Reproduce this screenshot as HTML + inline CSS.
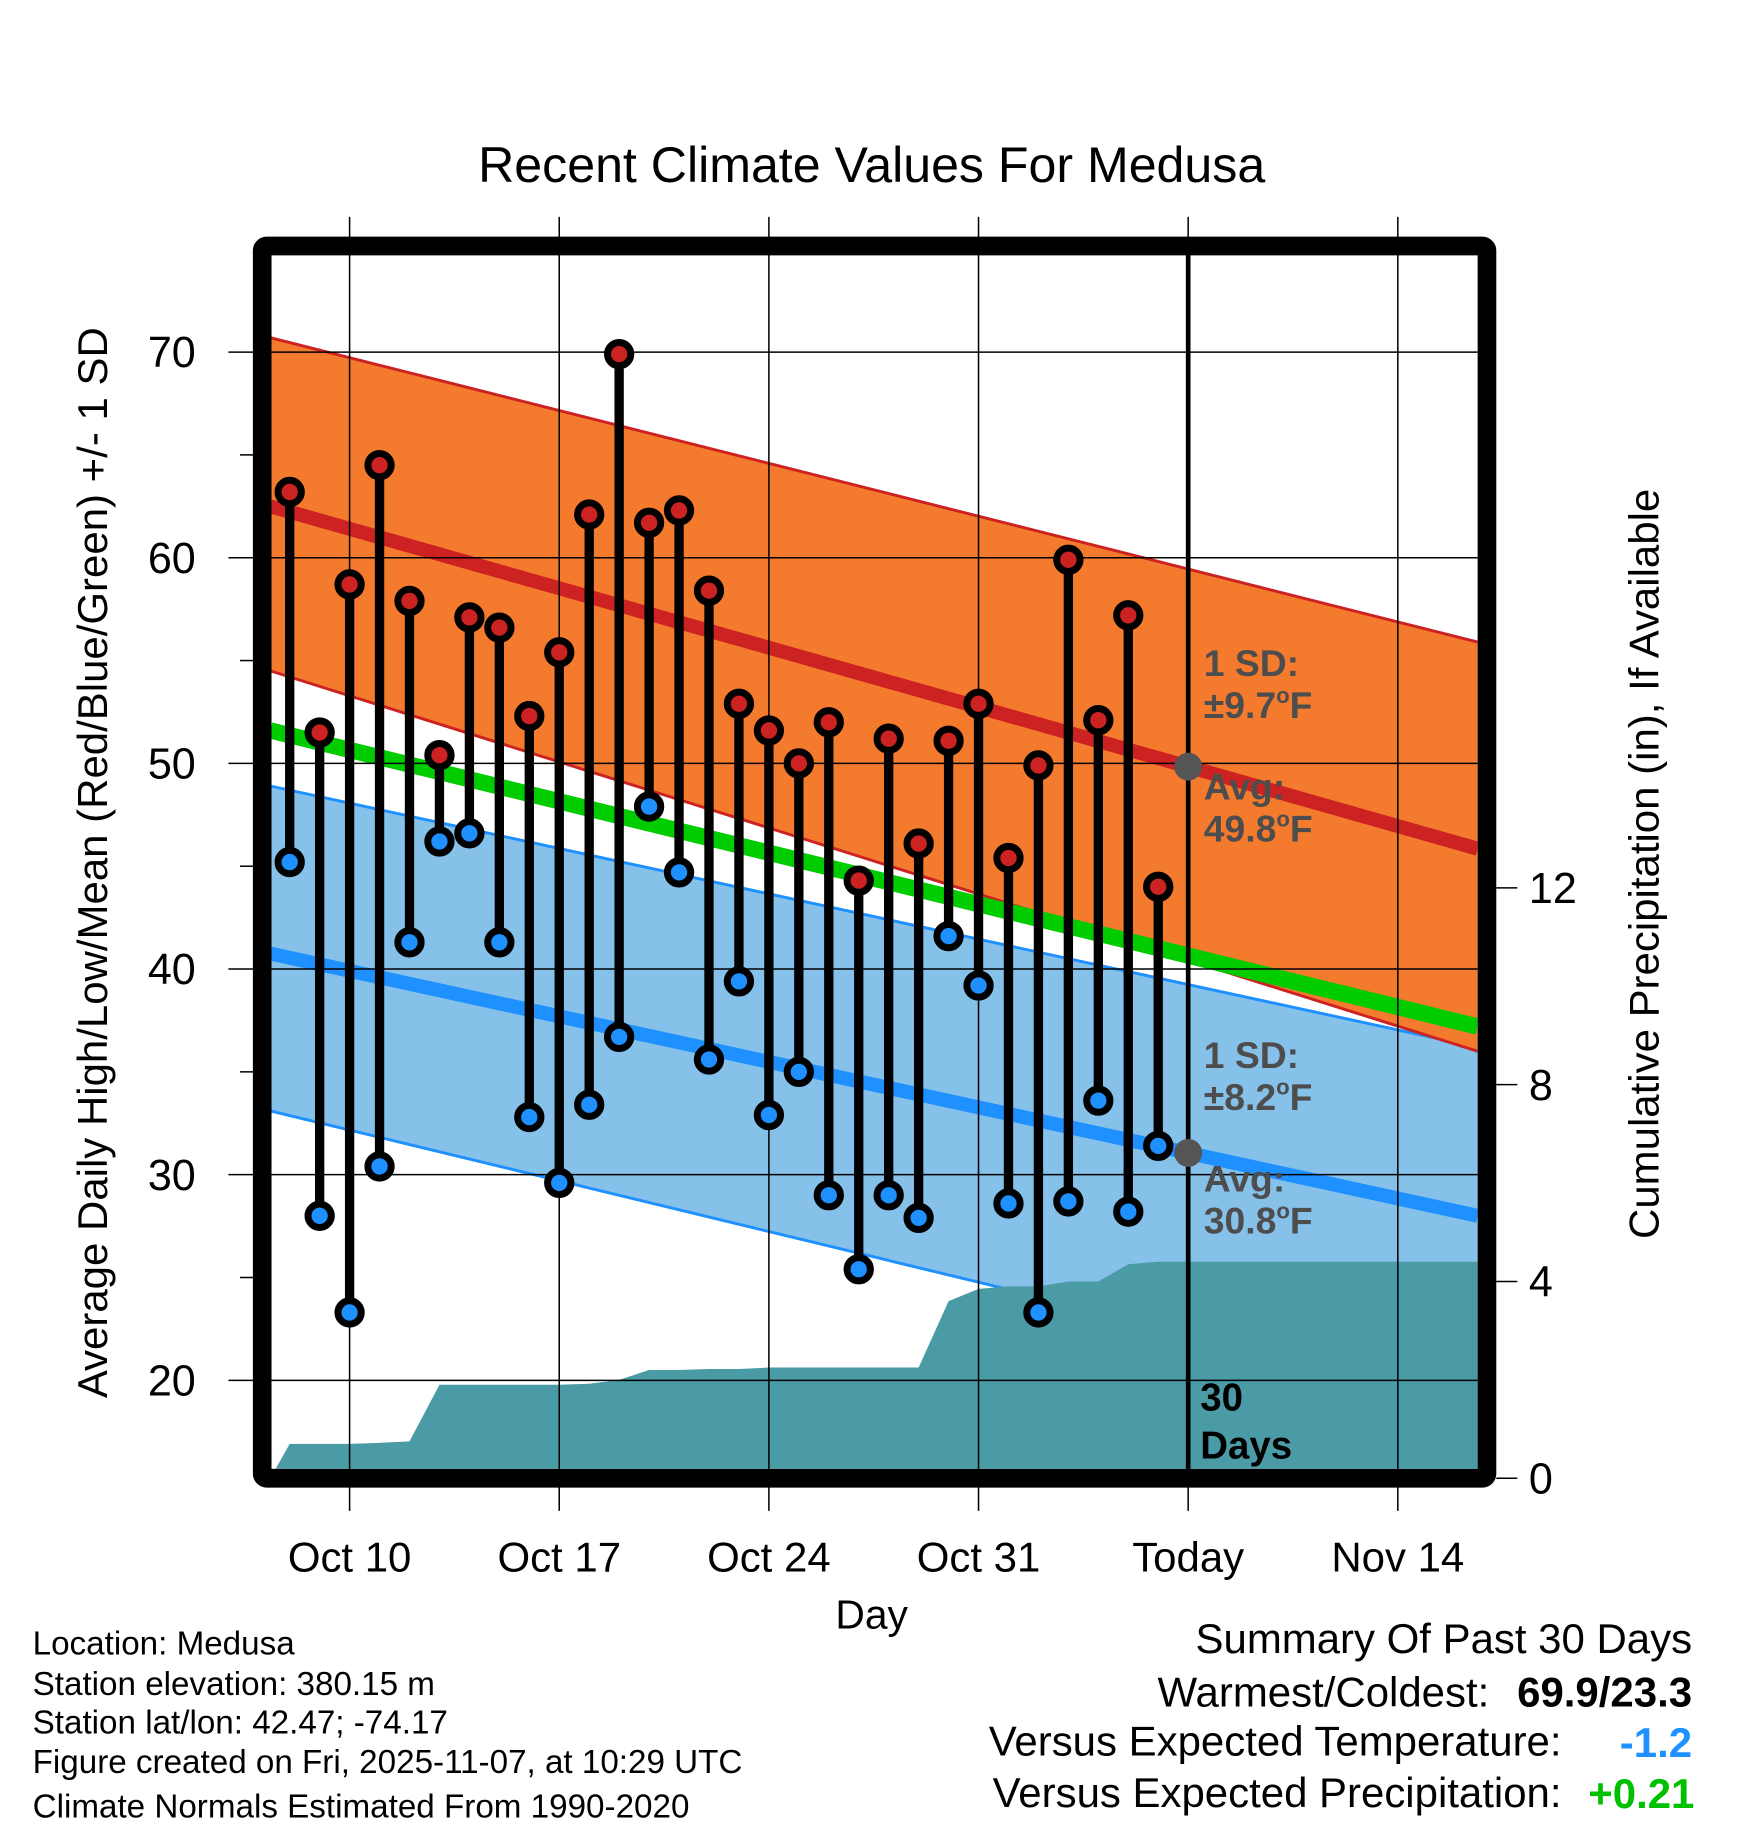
<!DOCTYPE html>
<html><head><meta charset="utf-8">
<style>
html,body{margin:0;padding:0;background:#fff}
svg{display:block;font-family:"Liberation Sans",Arial,sans-serif}
</style></head>
<body>
<svg id="chart" xmlns="http://www.w3.org/2000/svg" width="1748" height="1828" viewBox="0 0 1500 1568" preserveAspectRatio="none">
<text x="748" y="156" font-size="43" text-anchor="middle">Recent Climate Values For Medusa</text>
<g id="plot"></g>
<text transform="translate(92,740) rotate(-90)" font-size="36" text-anchor="middle">Average Daily High/Low/Mean (Red/Blue/Green) +/- 1 SD</text>
<text transform="translate(1423,741) rotate(-90)" font-size="36" text-anchor="middle">Cumulative Precipitation (in), If Available</text>
<text x="748" y="1397" font-size="35" text-anchor="middle">Day</text>
<g font-size="28.5">
<text x="28" y="1419">Location: Medusa</text>
<text x="28" y="1454">Station elevation: 380.15 m</text>
<text x="28" y="1487">Station lat/lon: 42.47; -74.17</text>
<text x="28" y="1521">Figure created on Fri, 2025-11-07, at 10:29 UTC</text>
<text x="28" y="1559">Climate Normals Estimated From 1990-2020</text>
</g>
<g font-size="36" text-anchor="end">
<text x="1452" y="1418">Summary Of Past 30 Days</text>
<text x="1278" y="1464">Warmest/Coldest:</text>
<text x="1452" y="1464" font-weight="bold">69.9/23.3</text>
<text x="1340" y="1506">Versus Expected Temperature:</text>
<text x="1452" y="1507" font-weight="bold" fill="#1e90ff">-1.2</text>
<text x="1340" y="1550">Versus Expected Precipitation:</text>
<text x="1454" y="1551" font-weight="bold" fill="#00c000">+0.21</text>
</g>
</svg>
<script>
const days = [-2,-1,0,1,2,3,4,5,6,7,8,9,10,11,12,13,14,15,16,17,18,19,20,21,22,23,24,25,26,27];
const highs = [63.2,51.5,58.7,64.5,57.9,50.4,57.1,56.6,52.3,55.4,62.1,69.9,61.7,62.3,58.4,52.9,51.6,50.0,52.0,44.3,51.2,46.1,51.1,52.9,45.4,49.9,59.9,52.1,57.2,44.0];
const lows = [45.2,28.0,23.3,30.4,41.3,46.2,46.6,41.3,32.8,29.6,33.4,36.7,47.9,44.7,35.6,39.4,32.9,35.0,29.0,25.4,29.0,27.9,41.6,39.2,28.6,23.3,28.7,33.6,28.2,31.4];
const precip = [0.7,0.7,0.7,0.72,0.75,1.9,1.9,1.9,1.9,1.9,1.92,2.0,2.2,2.2,2.22,2.22,2.25,2.25,2.25,2.25,2.25,2.25,3.6,3.85,3.9,3.9,4.0,4.0,4.35,4.4];
const normHighEnds = [62.5,45.85];
const highUpperEnds = [70.7,55.9];
const highLowerEnds = [54.5,36.0];
const normLowEnds = [40.75,28.0];
const lowUpperEnds = [48.9,36.2];
const lowLowerEnds = [33.1,18.9];
const normMeanEnds = [51.6,37.2];
const yTicks = [20,30,40,50,60,70];
const y2Ticks = [0,4,8,12];
const xTickDays = [0,7,14,21,28,35];
const xTickLabels = ["Oct 10","Oct 17","Oct 24","Oct 31","Today","Nov 14"];
const todayDay = 28;

const L=232,R=1268,T=218,B=1260;
const x = d => 300 + d*25.7;
const dL = (L-300)/25.7, dR = (R-300)/25.7;
const y = v => 302 + (70-v)*17.64;
const y2 = p => 1268 - p*42.2;
const NS="http://www.w3.org/2000/svg";
const plot=document.getElementById('plot');
function mk(tag,attrs,parent){const e=document.createElementNS(NS,tag);for(const k in attrs)e.setAttribute(k,attrs[k]);(parent||plot).appendChild(e);return e;}
const lineAt=(ends,d)=>ends[0]+(ends[1]-ends[0])*(d-dL)/(dR-dL);

const defs=mk('defs',{});
const cp=mk('clipPath',{id:'clip'},defs);
mk('rect',{x:L,y:T,width:R-L,height:B-T},cp);
const g=mk('g',{'clip-path':'url(#clip)'});

function band(up,lo,fill,edge,name){
  const p=`M${L},${y(up[0])} L${R},${y(up[1])} L${R},${y(lo[1])} L${L},${y(lo[0])} Z`;
  const b=mk('path',{d:p,fill:fill},g);
  
  
  [up,lo].forEach(e=>{mk('line',{x1:L,y1:y(e[0]),x2:R,y2:y(e[1]),stroke:edge,'stroke-width':2.5},g);});
}
band(lowUpperEnds,lowLowerEnds,'#85c1e9','#1e90ff','low-sd-band');
band(highUpperEnds,highLowerEnds,'#f47a2e','#cc2222','high-sd-band');

let pd=`M${L},${y2(0)} L${x(days[0])},${y2(precip[0])}`;
days.forEach((d,i)=>{pd+=` L${x(d)},${y2(precip[i])}`;});
pd+=` L${x(todayDay)},${y2(precip[precip.length-1])} L${R},${y2(precip[precip.length-1])} L${R},${B} L${L},${B} Z`;
const pr=mk('path',{d:pd,fill:'#4a9ba5'},g);



yTicks.forEach(v=>{const l=mk('line',{x1:196,y1:y(v),x2:R,y2:y(v),stroke:'#000','stroke-width':1.3});
  
  const t=mk('text',{x:168,y:y(v)+13,'font-size':37,'text-anchor':'end'});t.textContent=v;
  });
[25,35,45,55,65].forEach(v=>mk('line',{x1:206,y1:y(v),x2:218,y2:y(v),stroke:'#000','stroke-width':1.3}));
xTickDays.forEach((d,i)=>{const l=mk('line',{x1:x(d),y1:186,x2:x(d),y2:1296,stroke:'#000','stroke-width':1.3});
  
  const t=mk('text',{x:x(d),y:1348,'font-size':36,'text-anchor':'middle'});t.textContent=xTickLabels[i];
  });
y2Ticks.forEach(p=>{mk('line',{x1:1284,y1:y2(p),x2:1302,y2:y2(p),stroke:'#000','stroke-width':1.3});
  const t=mk('text',{x:1312,y:y2(p)+13,'font-size':37});t.textContent=p;
  });

function nline(ends,col,w,name){const l=mk('line',{x1:L,y1:y(ends[0]),x2:R,y2:y(ends[1]),stroke:col,'stroke-width':w},g);
  }
nline(normLowEnds,'#1e90ff',12,'normal-low-line');
nline(normHighEnds,'#cc2222',12,'normal-high-line');
nline(normMeanEnds,'#00cc00',14,'normal-mean-line');

const tl=mk('line',{x1:x(todayDay),y1:T,x2:x(todayDay),y2:B,stroke:'#000','stroke-width':4});

[normHighEnds,normLowEnds].forEach(e=>{mk('circle',{cx:x(todayDay),cy:y(lineAt(e,todayDay)),r:12,fill:'#555'});});

days.forEach((d,i)=>{
  const s=mk('line',{x1:x(d),y1:y(highs[i]),x2:x(d),y2:y(lows[i]),stroke:'#000','stroke-width':8});
  
  const h=mk('circle',{cx:x(d),cy:y(highs[i]),r:10,fill:'#cc2222',stroke:'#000','stroke-width':6});
  
  const lo=mk('circle',{cx:x(d),cy:y(lows[i]),r:10,fill:'#1e90ff',stroke:'#000','stroke-width':6});
  
});

const ann=[["1 SD:",580],["±9.7°F",616],["Avg:",686],["49.8°F",722],["1 SD:",916],["±8.2°F",952],["Avg:",1022],["30.8°F",1058]];
ann.forEach(a=>{const t=mk('text',{x:1033,y:a[1],'font-size':32,'font-weight':'bold',fill:'#4d4d4d'});
  t.textContent=a[0].replace('°F','');
  if(a[0].includes('°F')){const s=mk('tspan',{dy:-13,'font-size':19},t);s.textContent='o';const f=mk('tspan',{dy:13},t);f.textContent='F';}
  });
const d1=mk('text',{x:1030,y:1210,'font-size':33,'font-weight':'bold'});d1.textContent='30';

const d2=mk('text',{x:1030,y:1251,'font-size':33,'font-weight':'bold'});d2.textContent='Days';


const fr=mk('rect',{x:225,y:211,width:1051,height:1057,fill:'none',stroke:'#000','stroke-width':16,rx:4});

</script>
</body></html>
